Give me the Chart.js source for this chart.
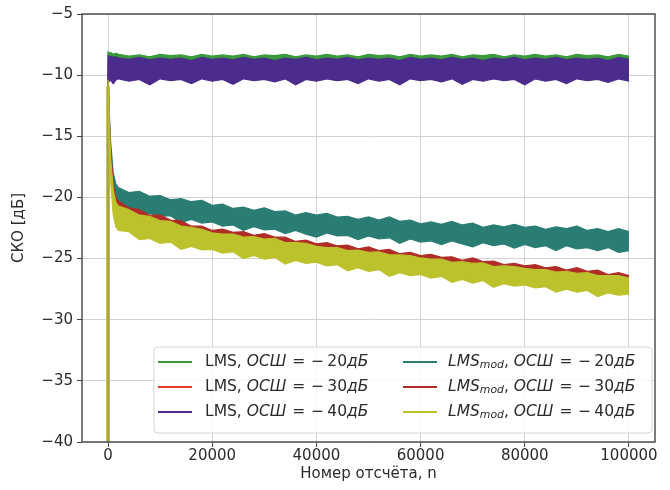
<!DOCTYPE html>
<html>
<head>
<meta charset="utf-8">
<script src="https://cdn.jsdelivr.net/npm/chart.js@4.4.1/dist/chart.umd.min.js"></script>
<style>
  html, body { margin: 0; padding: 0; background: #ffffff; }
  #wrap { width: 670px; height: 490px; position: relative; }
</style>
</head>
<body>
<div id="wrap"><canvas id="c" width="670" height="490"></canvas></div>
<script>
// ---- sample index (x axis) ----
const nValues = [0, 1, 250, 500, 1000, 1500,
  2000, 4000, 6000, 8000, 10000, 12000, 14000, 16000, 18000, 20000,
  22000, 24000, 26000, 28000, 30000, 32000, 34000, 36000, 38000, 40000,
  42000, 44000, 46000, 48000, 50000, 52000, 54000, 56000, 58000, 60000,
  62000, 64000, 66000, 68000, 70000, 72000, 74000, 76000, 78000, 80000,
  82000, 84000, 86000, 88000, 90000, 92000, 94000, 96000, 98000, 100000];

// ---- tick labels ----
const xTicks = [0, 20000, 40000, 60000, 80000, 100000];
const yTicks = [-40, -35, -30, -25, -20, -15, -10, -5];

// ---- LMS, SNR = -20 dB (upper / lower edge of the noisy band) ----
const lms20Hi = [-45, -8.1, -8.2, -8.15, -8.3, -8.2,
  -8.3,-8.45,-8.35,-8.5,-8.3,-8.4,-8.35,-8.5,-8.3,-8.45,
  -8.35,-8.45,-8.3,-8.5,-8.35,-8.4,-8.3,-8.5,-8.35,-8.45,
  -8.3,-8.45,-8.35,-8.5,-8.3,-8.4,-8.35,-8.5,-8.3,-8.45,
  -8.35,-8.45,-8.3,-8.5,-8.35,-8.4,-8.3,-8.5,-8.35,-8.45,
  -8.3,-8.45,-8.35,-8.5,-8.3,-8.4,-8.35,-8.5,-8.3,-8.45];
const lms20Lo = [-45, -9.8, -9.9, -9.8, -9.9, -9.8,
  -9.9,-9.8,-10.0,-9.9,-9.8,-9.9,-9.8,-10.0,-9.9,-9.8,
  -9.9,-9.8,-10.0,-9.9,-9.8,-9.9,-9.8,-10.0,-9.9,-9.8,
  -9.9,-9.8,-10.0,-9.9,-9.8,-9.9,-9.8,-10.0,-9.9,-9.8,
  -9.9,-9.8,-10.0,-9.9,-9.8,-9.9,-9.8,-10.0,-9.9,-9.8,
  -9.9,-9.8,-10.0,-9.9,-9.8,-9.9,-9.8,-10.0,-9.9,-9.8];

// ---- LMS, SNR = -30 dB (lies under the -40 dB band) ----
const lms30Hi = [-45, -9.0, -9.1, -9.0, -9.1, -9.0,
  -9.0,-9.1,-9.0,-9.1,-9.0,-9.1,-9.0,-9.1,-9.0,-9.1,
  -9.0,-9.1,-9.0,-9.1,-9.0,-9.1,-9.0,-9.1,-9.0,-9.1,
  -9.0,-9.1,-9.0,-9.1,-9.0,-9.1,-9.0,-9.1,-9.0,-9.1,
  -9.0,-9.1,-9.0,-9.1,-9.0,-9.1,-9.0,-9.1,-9.0,-9.1,
  -9.0,-9.1,-9.0,-9.1,-9.0,-9.1,-9.0,-9.1,-9.0,-9.1];
const lms30Lo = [-45, -10.0, -10.1, -10.0, -10.1, -10.0,
  -10.1,-10.0,-10.1,-10.0,-10.1,-10.0,-10.1,-10.0,-10.1,-10.0,
  -10.1,-10.0,-10.1,-10.0,-10.1,-10.0,-10.1,-10.0,-10.1,-10.0,
  -10.1,-10.0,-10.1,-10.0,-10.1,-10.0,-10.1,-10.0,-10.1,-10.0,
  -10.1,-10.0,-10.1,-10.0,-10.1,-10.0,-10.1,-10.0,-10.1,-10.0,
  -10.1,-10.0,-10.1,-10.0,-10.1,-10.0,-10.1,-10.0,-10.1,-10.0];

// ---- LMS, SNR = -40 dB ----
const lms40Hi = [-45, -8.4, -8.5, -8.45, -8.55, -8.5,
  -8.6,-8.7,-8.55,-8.75,-8.6,-8.7,-8.6,-8.8,-8.55,-8.7,
  -8.6,-8.75,-8.55,-8.7,-8.6,-8.8,-8.6,-8.7,-8.55,-8.75,
  -8.6,-8.7,-8.55,-8.75,-8.6,-8.7,-8.6,-8.8,-8.55,-8.7,
  -8.6,-8.75,-8.55,-8.7,-8.6,-8.8,-8.6,-8.7,-8.55,-8.75,
  -8.6,-8.7,-8.55,-8.75,-8.6,-8.7,-8.6,-8.8,-8.55,-8.7];
const lms40Lo = [-45, -10.3, -10.5, -10.4, -10.7, -10.4,
  -10.3,-10.5,-10.35,-10.8,-10.3,-10.45,-10.35,-10.7,-10.3,-10.5,
  -10.35,-10.75,-10.3,-10.45,-10.35,-10.55,-10.3,-10.8,-10.35,-10.5,
  -10.3,-10.45,-10.35,-10.7,-10.3,-10.5,-10.35,-10.8,-10.3,-10.45,
  -10.35,-10.55,-10.3,-10.75,-10.35,-10.5,-10.3,-10.45,-10.35,-10.8,
  -10.3,-10.5,-10.35,-10.7,-10.3,-10.45,-10.35,-10.6,-10.3,-10.5];

// ---- LMSmod, SNR = -20 dB ----
const mod20Hi = [-45, -10.2, -13.0, -15.5, -18.0, -18.9,
  -19.2,-19.6,-19.5,-19.9,-19.85,-20.2,-20.1,-20.35,-20.25,-20.65,
  -20.55,-20.9,-20.8,-21.05,-20.85,-21.15,-21.1,-21.45,-21.25,-21.45,
  -21.3,-21.6,-21.55,-21.8,-21.6,-21.85,-21.6,-21.95,-21.85,-22.15,
  -22.0,-22.2,-21.95,-22.25,-22.1,-22.45,-22.25,-22.4,-22.2,-22.45,
  -22.35,-22.6,-22.4,-22.55,-22.35,-22.7,-22.55,-22.8,-22.55,-22.8];
const mod20Lo = [-45, -10.6, -14.2, -16.8, -19.4, -20.5,
  -20.95,-20.95,-21.45,-21.3,-21.55,-21.5,-22.05,-21.8,-22.1,-22.0,
  -22.35,-22.25,-22.7,-22.4,-22.65,-22.6,-22.95,-22.7,-23.0,-23.25,
  -22.9,-23.15,-23.1,-23.45,-23.15,-23.4,-23.3,-23.75,-23.4,-23.65,
  -23.55,-23.85,-23.55,-23.8,-24.05,-23.7,-23.95,-23.8,-24.15,-23.85,
  -24.1,-23.95,-24.35,-23.95,-24.2,-24.1,-24.35,-24.1,-24.5,-24.35];

// ---- LMSmod, SNR = -30 dB ----
const mod30Hi = [-45, -10.3, -13.6, -16.2, -18.9, -20.0,
  -20.3,-20.85,-21.0,-21.45,-21.45,-21.85,-21.9,-22.35,-22.35,-22.7,
  -22.6,-22.85,-22.8,-23.1,-22.95,-23.25,-23.25,-23.6,-23.5,-23.8,
  -23.7,-23.95,-23.9,-24.2,-24.05,-24.35,-24.25,-24.6,-24.5,-24.75,
  -24.65,-24.9,-24.85,-25.15,-24.95,-25.25,-25.2,-25.5,-25.4,-25.6,
  -25.5,-25.75,-25.65,-25.95,-25.75,-26.05,-25.95,-26.3,-26.15,-26.4];
const mod30Lo = [-45, -10.7, -14.8, -17.8, -20.6, -21.6,
  -21.8,-22.2,-22.5,-22.75,-23.0,-23.2,-23.4,-23.6,-23.8,-24.0,
  -24.1,-24.2,-24.3,-24.4,-24.5,-24.6,-24.75,-24.85,-24.95,-25.1,
  -25.2,-25.3,-25.4,-25.5,-25.6,-25.7,-25.75,-25.85,-25.95,-26.05,
  -26.15,-26.25,-26.35,-26.45,-26.5,-26.6,-26.7,-26.75,-26.85,-26.9,
  -27.0,-27.1,-27.15,-27.25,-27.3,-27.4,-27.45,-27.55,-27.6,-27.7];

// ---- LMSmod, SNR = -40 dB ----
const mod40Hi = [-45, -10.4, -14.0, -16.8, -19.4, -20.4,
  -20.7,-21.0,-21.45,-21.55,-21.9,-21.95,-22.35,-22.45,-22.6,-22.9,
  -23.0,-23.0,-23.25,-23.2,-23.4,-23.35,-23.7,-23.7,-23.75,-24.0,
  -24.1,-24.1,-24.35,-24.3,-24.5,-24.45,-24.7,-24.7,-24.75,-24.95,
  -25.05,-25.05,-25.3,-25.25,-25.4,-25.35,-25.65,-25.6,-25.65,-25.8,
  -25.9,-25.9,-26.1,-26.05,-26.2,-26.15,-26.4,-26.4,-26.4,-26.6];
const mod40Lo = [-45, -10.9, -15.6, -18.8, -21.4, -22.4,
  -22.7,-22.8,-23.45,-23.35,-23.75,-23.65,-24.25,-24.0,-24.3,-24.25,
  -24.55,-24.45,-25.0,-24.75,-25.05,-24.9,-25.45,-25.15,-25.4,-25.3,
  -25.6,-25.5,-26.0,-25.75,-26.05,-25.9,-26.45,-26.15,-26.4,-26.3,
  -26.6,-26.45,-26.95,-26.7,-27.0,-26.8,-27.35,-27.05,-27.25,-27.15,
  -27.4,-27.3,-27.75,-27.5,-27.75,-27.6,-28.1,-27.8,-28.0,-27.9];

// ---- series (drawing order as in the original: later on top) ----
const seriesNames = ['LMS, -20', 'LMS, -30', 'LMS, -40', 'LMSmod, -20', 'LMSmod, -30', 'LMSmod, -40'];
const seriesColors = ['#3a9a3a', '#e83b30', '#4b2b8b', '#2a7d73', '#b02c27', '#bcc22c'];
const seriesHi = [lms20Hi, lms30Hi, lms40Hi, mod20Hi, mod30Hi, mod40Hi];
const seriesLo = [lms20Lo, lms30Lo, lms40Lo, mod20Lo, mod30Lo, mod40Lo];
const startLineColor = '#aaa63a';

const FONT = "'DejaVu Sans', 'Liberation Sans', sans-serif";
const TEXT = '#2b2b2b';

const datasets = [];
seriesNames.forEach((name, s) => {
  const col = seriesColors[s];
  const ord = 20 - s; // lower order drawn later (on top)
  const lo = {
    label: name + ' lo',
    data: nValues.map((x, i) => ({ x: x, y: seriesLo[s][i] })),
    borderColor: col, backgroundColor: col, borderWidth: 1.2,
    pointRadius: 0, fill: false, tension: 0, order: ord
  };
  if (s === seriesNames.length - 1) {
    lo.segment = {
      borderWidth: c => (c.p0DataIndex === 0 ? 3.5 : undefined),
      borderColor: c => (c.p0DataIndex === 0 ? startLineColor : undefined)
    };
  }
  datasets.push(lo);
  datasets.push({
    label: name,
    data: nValues.map((x, i) => ({ x: x, y: seriesHi[s][i] })),
    borderColor: col, backgroundColor: col, borderWidth: 1.2,
    pointRadius: 0, fill: '-1', tension: 0, order: ord
  });
});

function fmtMinus(v) { return String(v).replace('-', '\u2212'); }

// rich text: parts [{t, it, sub, gap}]
function drawRich(ctx, parts, x, y, size) {
  let cx = x;
  parts.forEach(p => {
    if (p.gap) { cx += p.gap; return; }
    const fs = p.sub ? size * 0.7 : size;
    ctx.font = (p.it ? 'oblique ' : '') + fs + 'px ' + FONT;
    ctx.fillText(p.t, cx, p.sub ? y + size * 0.22 : y);
    cx += ctx.measureText(p.t).width;
  });
}

const frameAndLegend = {
  id: 'frameAndLegend',
  afterDatasetsDraw(chart) {
    const { ctx, chartArea: a } = chart;
    ctx.save();
    ctx.strokeStyle = '#454545';
    ctx.lineWidth = 1.4;
    ctx.strokeRect(a.left, a.top, a.right - a.left, a.bottom - a.top);
    ctx.restore();
  },
  afterDraw(chart) {
    const ctx = chart.ctx;
    ctx.save();
    const bx = 154, by = 347, bw = 498, bh = 86, r = 4;
    ctx.beginPath();
    ctx.moveTo(bx + r, by);
    ctx.arcTo(bx + bw, by, bx + bw, by + bh, r);
    ctx.arcTo(bx + bw, by + bh, bx, by + bh, r);
    ctx.arcTo(bx, by + bh, bx, by, r);
    ctx.arcTo(bx, by, bx + bw, by, r);
    ctx.closePath();
    ctx.fillStyle = 'rgba(255,255,255,0.82)';
    ctx.fill();
    ctx.strokeStyle = '#d6d6d6';
    ctx.lineWidth = 1;
    ctx.stroke();

    const rows = [362, 387, 412];
    const snr = ['20', '30', '40'];
    ctx.textBaseline = 'middle';
    for (let c = 0; c < 2; c++) {
      for (let k = 0; k < 3; k++) {
        const s = c * 3 + k;
        const y = rows[k];
        const hx = c === 0 ? 158 : 403;
        ctx.strokeStyle = seriesColors[s];
        ctx.lineWidth = 2.2;
        ctx.beginPath();
        ctx.moveTo(hx, y);
        ctx.lineTo(hx + 34, y);
        ctx.stroke();
        ctx.fillStyle = TEXT;
        const tail = [{ t: '\u041E\u0421\u0428', it: true }, { gap: 6 }, { t: '=' }, { gap: 6 },
                      { t: '\u2212' }, { gap: 3 }, { t: snr[k] }, { t: '\u0434\u0411', it: true }];
        let parts;
        if (c === 0) parts = [{ t: 'LMS, ' }].concat(tail);
        else parts = [{ t: 'LMS', it: true }, { t: 'mod', it: true, sub: true }, { t: ', ' }].concat(tail);
        drawRich(ctx, parts, c === 0 ? 205 : 448, y, 15.5);
      }
    }
    ctx.restore();
  }
};

new Chart(document.getElementById('c'), {
  type: 'line',
  data: { datasets: datasets },
  options: {
    responsive: false,
    animation: false,
    events: [],
    layout: { padding: { top: 14, right: 15, left: 0, bottom: 0 } },
    plugins: { legend: { display: false }, tooltip: { enabled: false }, title: { display: false } },
    scales: {
      x: {
        type: 'linear', min: -5000, max: 105000,
        afterBuildTicks: sc => { sc.ticks = xTicks.map(v => ({ value: v })); },
        afterFit: sc => { sc.height = 48; },
        ticks: { callback: v => String(v), color: TEXT, font: { family: FONT, size: 15 }, padding: 0, maxRotation: 0, autoSkip: false },
        grid: { color: '#d2d2d2', lineWidth: 1, tickColor: '#454545', tickLength: 5 },
        border: { display: false },
        title: { display: true, text: 'Номер отсчёта, n', color: TEXT, font: { family: FONT, size: 15 }, padding: { top: 0, bottom: 7 } }
      },
      y: {
        type: 'linear', min: -40, max: -5,
        afterBuildTicks: sc => { sc.ticks = yTicks.map(v => ({ value: v })); },
        afterFit: sc => { sc.width = 82; },
        ticks: { callback: v => fmtMinus(v), color: TEXT, font: { family: FONT, size: 15 }, padding: 4, autoSkip: false },
        grid: { color: '#d2d2d2', lineWidth: 1, tickColor: '#454545', tickLength: 5 },
        border: { display: false },
        title: { display: true, text: 'СКО [дБ]', color: TEXT, font: { family: FONT, size: 15 }, padding: { top: 10, bottom: 0 } }
      }
    }
  },
  plugins: [frameAndLegend]
});
</script>
</body>
</html>
